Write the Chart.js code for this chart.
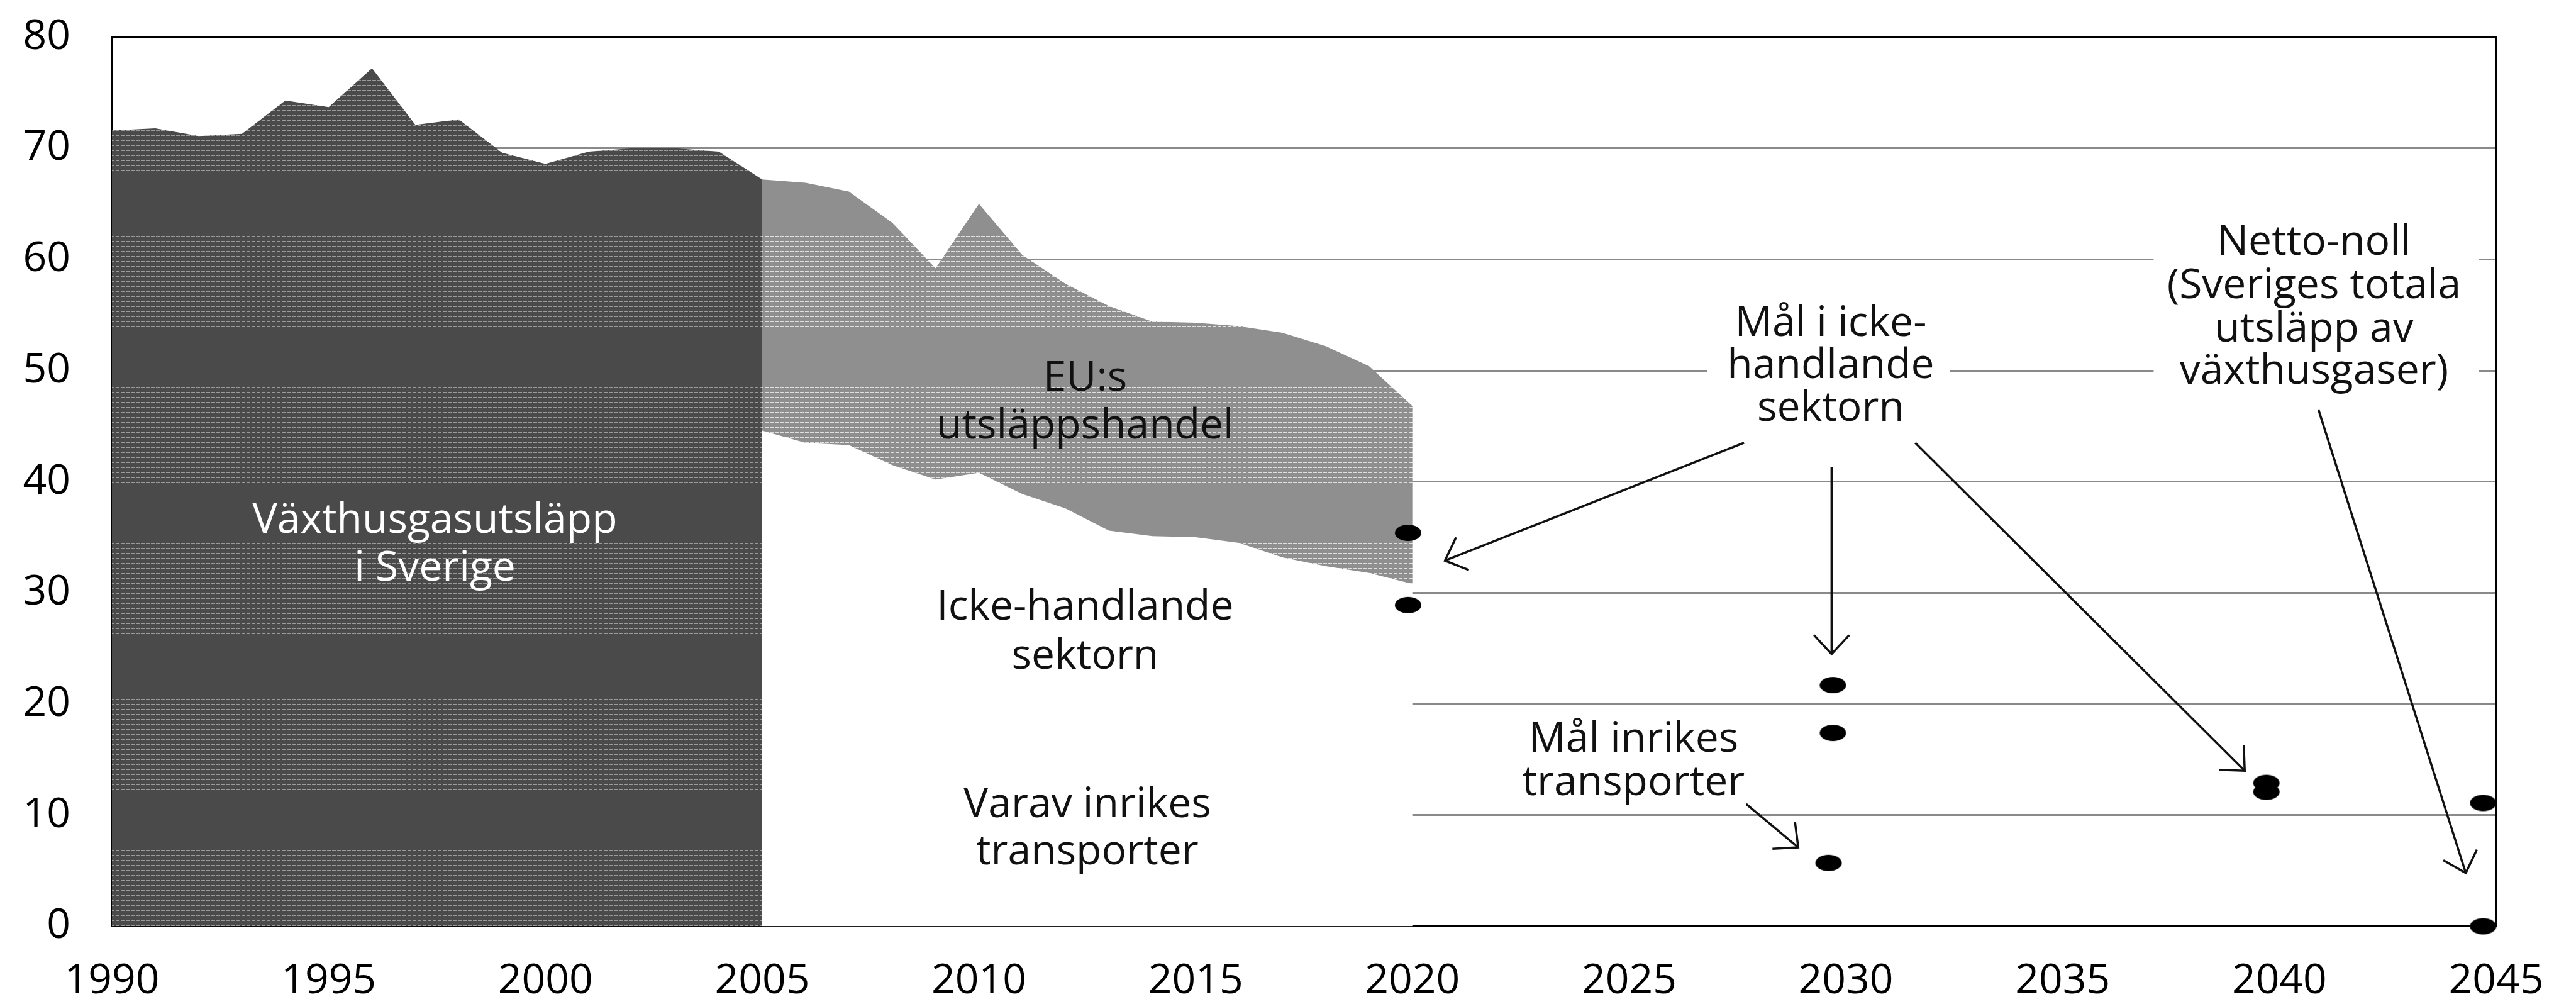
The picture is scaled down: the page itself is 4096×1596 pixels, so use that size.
<!DOCTYPE html>
<html lang="sv">
<head>
<meta charset="utf-8">
<title>Växthusgasutsläpp i Sverige</title>
<script src="https://cdn.jsdelivr.net/npm/chart.js@4.4.1/dist/chart.umd.min.js"></script>
<style>
  html, body { margin: 0; padding: 0; background: #fff; }
  #wrap { width: 4096px; height: 1596px; }
</style>
</head>
<body>
<div id="wrap"><canvas id="chart" width="4096" height="1596"></canvas></div>
<script>
// Totala utsläpp i Sverige 1990-2005 (miljoner ton koldioxidekvivalenter)
const histYears = [1990, 1991, 1992, 1993, 1994, 1995, 1996, 1997, 1998, 1999, 2000, 2001, 2002, 2003, 2004, 2005];
const histTotal = [71.6, 71.8, 71.1, 71.3, 74.3, 73.7, 77.2, 72.1, 72.6, 69.6, 68.6, 69.7, 70.0, 70.0, 69.7, 67.2];

// 2005-2020 : totalt (överkant) och icke-handlande sektorn (underkant)
const splitYears = [2005, 2006, 2007, 2008, 2009, 2010, 2011, 2012, 2013, 2014, 2015, 2016, 2017, 2018, 2019, 2020];
const splitTotal = [67.2, 66.9, 66.1, 63.3, 59.2, 65.0, 60.4, 57.8, 55.8, 54.4, 54.3, 54.0, 53.4, 52.2, 50.4, 46.8];
const nonTrading = [44.6, 43.5, 43.3, 41.5, 40.2, 40.8, 38.9, 37.6, 35.6, 35.1, 35.0, 34.5, 33.2, 32.4, 31.8, 30.8];

// Mål (punkter)
const goalYears  = [2019.9, 2019.9, 2029.7, 2029.7, 2029.6, 2039.7, 2039.7, 2044.7, 2044.7];
const goalValues = [35.4, 28.9, 21.7, 17.4, 5.7, 12.9, 12.1, 11.1, 0];

// Axlar
const xTicks = [1990, 1995, 2000, 2005, 2010, 2015, 2020, 2025, 2030, 2035, 2040, 2045];
const yTicks = [0, 10, 20, 30, 40, 50, 60, 70, 80];

const FONT = '"Open Sans", "Noto Sans", sans-serif';

// Rastermönster för ytorna
function makePattern(base, line) {
    const c = document.createElement('canvas');
    c.width = 8; c.height = 8;
    const g = c.getContext('2d');
    g.fillStyle = base;
    g.fillRect(0, 0, 8, 8);
    g.fillStyle = line;
    g.fillRect(0, 7, 6, 1);
    return g.createPattern(c, 'repeat');
}

// Ellipsformad punkt
function makeDot() {
    const c = document.createElement('canvas');
    c.width = 44; c.height = 28;
    const g = c.getContext('2d');
    g.fillStyle = '#000';
    g.beginPath();
    g.ellipse(22, 14, 21, 13, 0, 0, Math.PI * 2);
    g.fill();
    return c;
}

// Texter (x = år, y = baslinje i Mt)
const labels = [
    { x: 1997.45, y: 35.4, text: 'Växthusgasutsläpp', color: '#fff' },
    { x: 1997.45, y: 31.1, text: 'i Sverige', color: '#fff' },
    { x: 2012.45, y: 48.2, text: 'EU:s' },
    { x: 2012.45, y: 43.9, text: 'utsläppshandel' },
    { x: 2012.45, y: 27.6, text: 'Icke-handlande' },
    { x: 2012.45, y: 23.2, text: 'sektorn' },
    { x: 2012.5, y: 9.8, text: 'Varav inrikes' },
    { x: 2012.5, y: 5.6, text: 'transporter' },
    { x: 2029.65, y: 53.1, text: 'Mål i icke-' },
    { x: 2029.65, y: 49.3, text: 'handlande' },
    { x: 2029.65, y: 45.5, text: 'sektorn' },
    { x: 2025.1, y: 15.7, text: 'Mål inrikes' },
    { x: 2025.1, y: 11.8, text: 'transporter' },
    { x: 2040.8, y: 60.4, text: 'Netto-noll' },
    { x: 2040.8, y: 56.5, text: '(Sveriges totala' },
    { x: 2040.8, y: 52.6, text: 'utsläpp av' },
    { x: 2040.8, y: 48.8, text: 'växthusgaser)' }
];

// Vita rutor bakom texterna (döljer stödlinjerna)
const boxes = [
    { x1: 2026.8, x2: 2032.4, y1: 55.8, y2: 44.8 },
    { x1: 2037.1, x2: 2044.6, y1: 63.5, y2: 47.3 }
];

// Pilar [från, till]
const arrows = [
    [2027.65, 43.5, 2020.75, 32.9],
    [2029.67, 41.3, 2029.67, 24.5],
    [2031.6, 43.5, 2039.2, 14.0],
    [2040.9, 46.5, 2044.3, 4.8],
    [2027.7, 11.0, 2028.9, 7.1]
];

function drawArrow(ctx, x1, y1, x2, y2) {
    ctx.beginPath();
    ctx.moveTo(x1, y1);
    ctx.lineTo(x2, y2);
    ctx.stroke();
    const a = Math.atan2(y1 - y2, x1 - x2);
    const len = 41, w = 43 * Math.PI / 180;
    ctx.beginPath();
    ctx.moveTo(x2 + len * Math.cos(a + w), y2 + len * Math.sin(a + w));
    ctx.lineTo(x2, y2);
    ctx.lineTo(x2 + len * Math.cos(a - w), y2 + len * Math.sin(a - w));
    ctx.stroke();
}

const annotations = {
    id: 'annotations',
    afterDatasetsDraw(chart) {
        const ctx = chart.ctx;
        const xs = chart.scales.x, ys = chart.scales.y;
        const area = chart.chartArea;
        ctx.save();

        ctx.fillStyle = '#fff';
        boxes.forEach(b => {
            const l = xs.getPixelForValue(b.x1), r = xs.getPixelForValue(b.x2);
            const t = ys.getPixelForValue(b.y1), bt = ys.getPixelForValue(b.y2);
            ctx.fillRect(l, t, r - l, bt - t);
        });

        ctx.font = '66px ' + FONT;
        ctx.textAlign = 'center';
        ctx.textBaseline = 'alphabetic';
        labels.forEach(l => {
            ctx.fillStyle = l.color || '#111';
            ctx.fillText(l.text, xs.getPixelForValue(l.x), ys.getPixelForValue(l.y));
        });

        ctx.strokeStyle = '#111';
        ctx.lineWidth = 3.5;
        ctx.lineCap = 'butt';
        arrows.forEach(a => {
            drawArrow(ctx, xs.getPixelForValue(a[0]), ys.getPixelForValue(a[1]),
                xs.getPixelForValue(a[2]), ys.getPixelForValue(a[3]));
        });

        // Ram upptill och till höger
        ctx.strokeStyle = '#000';
        ctx.lineWidth = 3;
        ctx.beginPath();
        ctx.moveTo(area.left, area.top);
        ctx.lineTo(area.right, area.top);
        ctx.lineTo(area.right, area.bottom);
        ctx.stroke();
        ctx.restore();
    }
};

const darkFill = makePattern('#4a4a4a', '#9a9a9a');
const lightFill = makePattern('#8f8f8f', '#e0e0e0');

new Chart(document.getElementById('chart'), {
    type: 'line',
    data: {
        datasets: [
            {
                label: 'Växthusgasutsläpp i Sverige',
                data: histYears.map((y, i) => ({ x: y, y: histTotal[i] })),
                fill: 'origin',
                backgroundColor: darkFill,
                borderColor: 'rgba(0,0,0,0)',
                borderWidth: 0,
                pointRadius: 0,
                tension: 0
            },
            {
                label: 'EU:s utsläppshandel',
                data: splitYears.map((y, i) => ({ x: y, y: splitTotal[i] })),
                fill: '+1',
                backgroundColor: lightFill,
                borderColor: 'rgba(0,0,0,0)',
                borderWidth: 0,
                pointRadius: 0,
                tension: 0
            },
            {
                label: 'Icke-handlande sektorn',
                data: splitYears.map((y, i) => ({ x: y, y: nonTrading[i] })),
                fill: 'origin',
                backgroundColor: '#ffffff',
                borderColor: 'rgba(0,0,0,0)',
                borderWidth: 0,
                pointRadius: 0,
                tension: 0
            },
            {
                label: 'Mål',
                data: goalYears.map((y, i) => ({ x: y, y: goalValues[i] })),
                showLine: false,
                pointStyle: makeDot(),
                pointRadius: 13,
                clip: false,
                order: -1
            }
        ]
    },
    options: {
        responsive: false,
        animation: false,
        devicePixelRatio: 1,
        events: [],
        layout: { padding: { top: 59, right: 127, left: 0, bottom: 0 } },
        plugins: {
            legend: { display: false },
            tooltip: { enabled: false }
        },
        scales: {
            x: {
                type: 'linear',
                min: 1990,
                max: 2045,
                afterBuildTicks: s => { s.ticks = xTicks.map(v => ({ value: v })); },
                afterFit: s => {
                    s.height = 123.5;
                    s.paddingLeft = 0;
                    s.paddingRight = 0;
                },
                grid: { display: false, drawTicks: false },
                border: { display: true, color: '#000', width: 3 },
                ticks: {
                    padding: 55,
                    color: '#000',
                    maxRotation: 0,
                    autoSkip: false,
                    font: { family: FONT, size: 66, lineHeight: 1 },
                    callback: v => String(v)
                }
            },
            y: {
                min: 0,
                max: 80,
                afterBuildTicks: s => { s.ticks = yTicks.map(v => ({ value: v })); },
                afterFit: s => {
                    s.width = 178;
                    s.paddingTop = 0;
                    s.paddingBottom = 0;
                },
                grid: { color: '#8a8a8a', lineWidth: 3, drawTicks: false },
                border: { display: true, color: '#000', width: 2 },
                ticks: {
                    padding: 66,
                    color: '#000',
                    font: { family: FONT, size: 66, lineHeight: 1 }
                }
            }
        }
    },
    plugins: [annotations]
});
</script>
</body>
</html>
